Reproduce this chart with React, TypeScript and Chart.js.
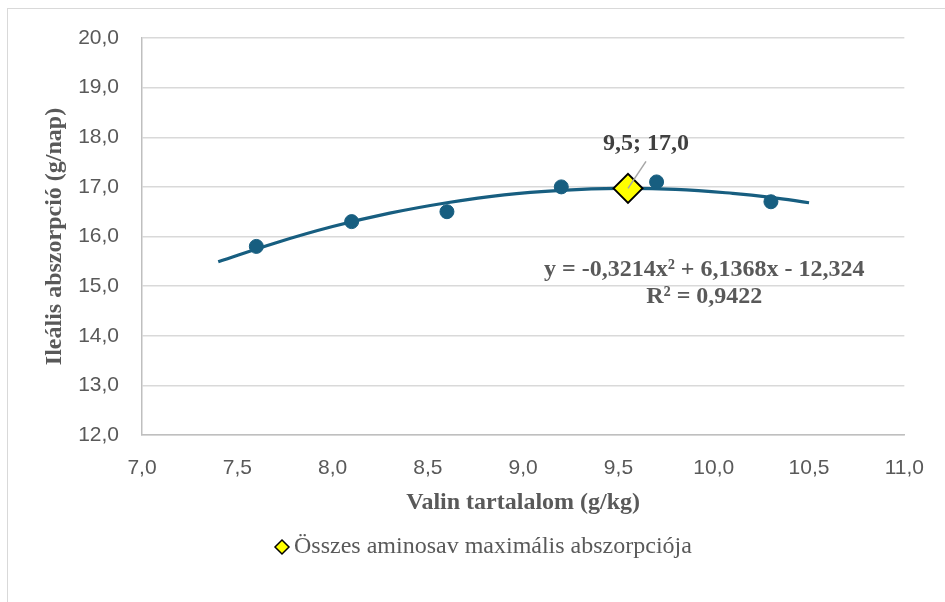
import React, { useEffect, useRef } from "react";
import { Chart, registerables } from "chart.js";

Chart.register(...registerables);

// Measured data (Valin g/kg vs ileal absorption g/day)
const valinX = [7.6, 8.1, 8.6, 9.2, 9.7, 10.3];
const absorpcioY = [15.8, 16.3, 16.5, 17.0, 17.1, 16.7];

// Polynomial trend line values
const trendX = [7.4, 7.7, 8.0, 8.3, 8.6, 8.9, 9.2, 9.5, 9.8, 10.1, 10.3, 10.5];
const trendY = [15.49, 15.87, 16.2, 16.47, 16.68, 16.84, 16.93, 16.97, 16.95, 16.87, 16.79, 16.68];

// Maximum point
const maxX = [9.55];
const maxY = [16.97];

const maxLabel = "9,5; 17,0";
const equationText = "y = -0,3214x² + 6,1368x - 12,324";
const r2Text = "R² = 0,9422";
const legendLabel = "Összes aminosav maximális abszorpciója";
const xTitle = "Valin tartalalom (g/kg)";
const yTitle = "Ileális abszorpció (g/nap)";

const X_MIN = 7, X_MAX = 11, X_STEP = 0.5;
const Y_MIN = 12, Y_MAX = 20, Y_STEP = 1;

const BLUE = "#175e80";
const TEXT = "#595959";
const DARK_TEXT = "#404040";
const SERIF = "'Liberation Serif', 'Times New Roman', serif";
const SANS = "'Liberation Sans', Arial, sans-serif";

const fmt = (v: number) => Number(v).toFixed(1).replace(".", ",");

export default function App() {
  const ref = useRef<HTMLCanvasElement | null>(null);

  useEffect(() => {
    const canvas = ref.current;
    if (!canvas) return;

    const decor = {
      id: "decor",
      beforeDraw(chart: any) {
        const { ctx } = chart;
        ctx.save();
        ctx.fillStyle = "#ffffff";
        ctx.fillRect(0, 0, chart.width, chart.height);
        ctx.fillStyle = "#d9d9d9";
        ctx.fillRect(7, 8, chart.width - 7, 1);
        ctx.fillRect(7, 8, 1, chart.height - 8);
        ctx.restore();
      },
      afterDraw(chart: any) {
        const { ctx } = chart;
        const xs = chart.scales.x;
        const ys = chart.scales.y;
        const area = chart.chartArea;
        ctx.save();

        // Leader line + label for maximum
        const px = xs.getPixelForValue(maxX[0]);
        const py = ys.getPixelForValue(maxY[0]);
        ctx.strokeStyle = "#a6a6a6";
        ctx.lineWidth = 1.5;
        ctx.beginPath();
        ctx.moveTo(px, py);
        ctx.lineTo(px + 18, py - 27);
        ctx.stroke();
        ctx.fillStyle = DARK_TEXT;
        ctx.font = `bold 24px ${SERIF}`;
        ctx.textAlign = "center";
        ctx.textBaseline = "middle";
        ctx.fillText(maxLabel, px + 18, py - 45);

        // Equation
        const ex = xs.getPixelForValue(9.95);
        ctx.fillStyle = TEXT;
        ctx.fillText(equationText, ex, ys.getPixelForValue(15.33));
        ctx.fillText(r2Text, ex, ys.getPixelForValue(14.78));

        // Axis titles
        ctx.fillText(xTitle, (area.left + area.right) / 2, 503);
        ctx.save();
        ctx.translate(55, (area.top + area.bottom) / 2);
        ctx.rotate(-Math.PI / 2);
        ctx.fillText(yTitle, 0, 0);
        ctx.restore();

        // Legend
        const lx = 282, ly = 547, r = 7;
        ctx.beginPath();
        ctx.moveTo(lx, ly - r);
        ctx.lineTo(lx + r, ly);
        ctx.lineTo(lx, ly + r);
        ctx.lineTo(lx - r, ly);
        ctx.closePath();
        ctx.fillStyle = "#ffff00";
        ctx.fill();
        ctx.strokeStyle = "#000000";
        ctx.lineWidth = 1.5;
        ctx.stroke();
        ctx.font = `24px ${SERIF}`;
        ctx.fillStyle = TEXT;
        ctx.textAlign = "left";
        ctx.fillText(legendLabel, 294, ly);

        ctx.restore();
      },
    };

    const chart = new Chart(canvas, {
      type: "scatter",
      data: {
        datasets: [
          {
            label: "Trend",
            data: trendX.map((x, i) => ({ x, y: trendY[i] })),
            showLine: true,
            borderColor: BLUE,
            borderWidth: 3.2,
            pointRadius: 0,
            tension: 0.4,
            order: 3,
          },
          {
            label: "Mért",
            data: valinX.map((x, i) => ({ x, y: absorpcioY[i] })),
            backgroundColor: BLUE,
            borderColor: BLUE,
            borderWidth: 1,
            pointRadius: 7,
            order: 2,
          },
          {
            label: legendLabel,
            data: maxX.map((x, i) => ({ x, y: maxY[i] })),
            pointStyle: "rectRot",
            backgroundColor: "#ffff00",
            borderColor: "#000000",
            borderWidth: 2,
            pointRadius: 14.5,
            order: 1,
          },
        ],
      },
      options: {
        responsive: false,
        animation: false,
        layout: { padding: { left: 0, top: 38, right: 40, bottom: 0 } },
        plugins: {
          legend: { display: false },
          tooltip: { enabled: false },
        },
        scales: {
          x: {
            type: "linear",
            min: X_MIN,
            max: X_MAX,
            afterFit: (s: any) => { s.height = 167; },
            afterBuildTicks: (s: any) => {
              const t = [];
              for (let v = X_MIN; v <= X_MAX + 1e-9; v += X_STEP) t.push({ value: +v.toFixed(2) });
              s.ticks = t;
            },
            grid: { display: false, drawTicks: false },
            border: { display: true, color: "#bfbfbf", width: 1.5 },
            ticks: {
              padding: 21,
              color: TEXT,
              font: { family: SANS, size: 21 },
              callback: (v: any) => fmt(v),
              maxRotation: 0,
              autoSkip: false,
            },
          },
          y: {
            type: "linear",
            min: Y_MIN,
            max: Y_MAX,
            afterFit: (s: any) => { s.width = 142; },
            grid: { color: "#d9d9d9", lineWidth: 1.5, drawTicks: false },
            border: { display: true, color: "#bfbfbf", width: 1.5 },
            ticks: {
              stepSize: Y_STEP,
              padding: 23,
              color: TEXT,
              font: { family: SANS, size: 21 },
              callback: (v: any) => fmt(v),
            },
          },
        },
      },
      plugins: [decor],
    } as any);

    return () => chart.destroy();
  }, []);

  return (
    <canvas
      ref={ref}
      width={945}
      height={602}
      style={{ position: "fixed", left: 0, top: 0, width: 945, height: 602 }}
    />
  );
}
